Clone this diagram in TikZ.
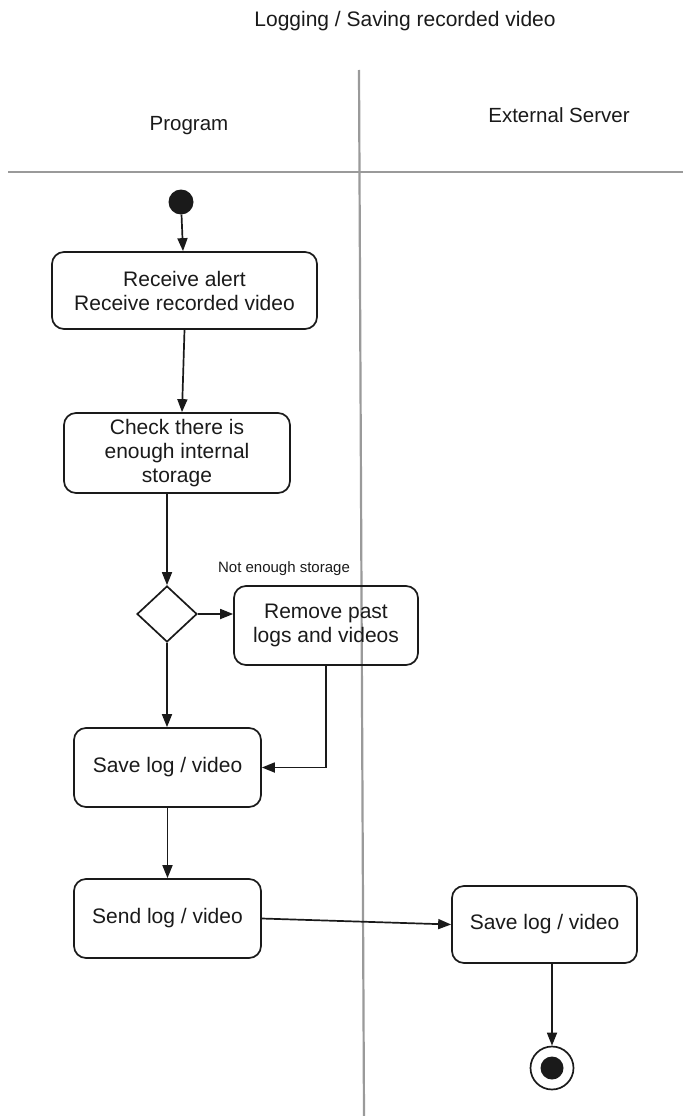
\documentclass[tikz,border=0pt]{standalone}
\usepackage{fontspec}
\setmainfont{Liberation Sans}
\usetikzlibrary{arrows.meta,shapes.geometric,calc}
\definecolor{lanegray}{HTML}{9A9A9A}
\definecolor{ink}{HTML}{1A1A1A}
\begin{document}
\begin{tikzpicture}[x=1pt,y=-1pt,
  lane/.style={draw=lanegray, line width=2.2pt},
  act/.style={draw=ink, line width=1.7pt, rounded corners=12pt, align=center,
    inner sep=0pt, text=ink, font=\fontsize{21}{24}\selectfont},
  flow/.style={draw=ink, line width=1.7pt, -{Triangle[length=13pt,width=10pt]}},
  heading/.style={anchor=base, text=ink, font=\fontsize{21}{24}\selectfont},
  lanehead/.style={anchor=base, text=ink, font=\fontsize{20.5}{24}\selectfont},
  guard/.style={anchor=base, text=ink, font=\fontsize{15}{18}\selectfont},
  decision/.style={diamond, draw=ink, line width=1.7pt, inner sep=0pt,
    minimum width=60pt, minimum height=56pt},
  initial/.style={circle, fill=ink, inner sep=0pt, minimum size=25pt},
  final/.style={circle, draw=ink, line width=1.7pt, inner sep=0pt, minimum size=43pt}]

\useasboundingbox (0,0) rectangle (683,1116);

% swimlane frame
\coordinate (laneTop) at (359,70);
\coordinate (laneBottom) at (364,1116);
\coordinate (headLeft) at (8,172);
\coordinate (headRight) at (683,172);
\draw[lane] (laneTop) -- (laneBottom);
\draw[lane] (headLeft) -- (headRight);

% titles
\node[heading] (title) at (405,27) {Logging / Saving recorded video};
\node[lanehead] (laneProgram) at (189,130.5) {Program};
\node[lanehead] (laneServer) at (559,122.5) {External Server};

% program lane
\node[initial] (start) at (181,202) {};
\node[act, minimum width=265pt, minimum height=77pt] (recv) at (184.5,290.5)
  {Receive alert\\Receive recorded video};
\node[act, minimum width=226pt, minimum height=80pt] (check) at (177,453)
  {Check there is\\enough internal\\storage};
\node[decision] (dec) at (167,614) {};
\node[act, minimum width=184pt, minimum height=79pt] (remove) at (326,625.5)
  {Remove past\\logs and videos};
\node[guard] (guardLabel) at (284,572) {Not enough storage};
\node[act, minimum width=187pt, minimum height=79pt] (save) at (167.5,767.5)
  {Save log / video};
\node[act, minimum width=187pt, minimum height=79pt] (send) at (167.5,918.5)
  {Send log / video};

% server lane
\node[act, minimum width=185pt, minimum height=77pt] (store) at (544.5,924.5)
  {Save log / video};
\node[final] (stop) at (552,1068) {};
\node[circle, fill=ink, inner sep=0pt, minimum size=23pt] (stopDot) at (stop) {};

% control flow
\draw[flow] (start) -- ($(recv.north)+(-1.5,0)$);
\draw[flow] (recv.south) -- ($(check.north)+(5,0)$);
\draw[flow] (check.south -| dec.north) -- (dec.north);
\draw[flow] (dec.east) -- (dec.east -| remove.west);
\draw[flow] (dec.south) -- (dec.south |- save.north);
\draw[flow] (remove.south) |- (save.east);
\draw[flow] (save.south) -- (send.north);
\draw[flow] (send.east) -- (store.west);
\draw[flow] (store.south -| stop.north) -- (stop.north);

\end{tikzpicture}
\end{document}
